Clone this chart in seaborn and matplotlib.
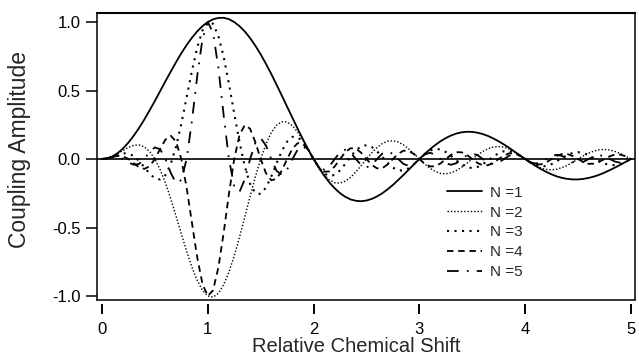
import numpy as np
import pandas as pd
import matplotlib
matplotlib.use("Agg")
import matplotlib.pyplot as plt
import seaborn as sns

# relative chemical shift, sampled every 0.05
shift = [0.00, 0.05, 0.10, 0.15, 0.20, 0.25, 0.30, 0.35, 0.40, 0.45,
         0.50, 0.55, 0.60, 0.65, 0.70, 0.75, 0.80, 0.85, 0.90, 0.95,
         1.00, 1.05, 1.10, 1.15, 1.20, 1.25, 1.30, 1.35, 1.40, 1.45,
         1.50, 1.55, 1.60, 1.65, 1.70, 1.75, 1.80, 1.85, 1.90, 1.95,
         2.00, 2.05, 2.10, 2.15, 2.20, 2.25, 2.30, 2.35, 2.40, 2.45,
         2.50, 2.55, 2.60, 2.65, 2.70, 2.75, 2.80, 2.85, 2.90, 2.95,
         3.00, 3.05, 3.10, 3.15, 3.20, 3.25, 3.30, 3.35, 3.40, 3.45,
         3.50, 3.55, 3.60, 3.65, 3.70, 3.75, 3.80, 3.85, 3.90, 3.95,
         4.00, 4.05, 4.10, 4.15, 4.20, 4.25, 4.30, 4.35, 4.40, 4.45,
         4.50, 4.55, 4.60, 4.65, 4.70, 4.75, 4.80, 4.85, 4.90, 4.95,
         5.00]

# coupling amplitude, N = 1..5
amp_n1 = [0, 0.005, 0.020, 0.044, 0.078, 0.120, 0.170, 0.226, 0.288, 0.355,
          0.424, 0.496, 0.568, 0.638, 0.707, 0.772, 0.832, 0.885, 0.932, 0.970,
          1.000, 1.020, 1.030, 1.031, 1.021, 1.000, 0.970, 0.931, 0.883, 0.827,
          0.764, 0.695, 0.621, 0.543, 0.463, 0.382, 0.301, 0.221, 0.143, 0.069,
          0, -0.064, -0.121, -0.172, -0.214, -0.249, -0.276, -0.295, -0.305, -0.308,
          -0.303, -0.291, -0.273, -0.250, -0.221, -0.189, -0.153, -0.116, -0.077, -0.038,
          0, 0.037, 0.071, 0.102, 0.130, 0.153, 0.172, 0.186, 0.195, 0.199,
          0.198, 0.192, 0.182, 0.168, 0.150, 0.129, 0.106, 0.081, 0.054, 0.027,
          0, -0.026, -0.051, -0.074, -0.094, -0.112, -0.127, -0.138, -0.145, -0.149,
          -0.149, -0.145, -0.138, -0.128, -0.115, -0.099, -0.081, -0.062, -0.042, -0.021,
          0]
amp_n2 = [0, 0.005, 0.019, 0.040, 0.063, 0.085, 0.100, 0.103, 0.089, 0.055,
          0, -0.078, -0.175, -0.290, -0.416, -0.546, -0.673, -0.789, -0.886, -0.958,
          -1.000, -1.008, -0.980, -0.918, -0.826, -0.707, -0.570, -0.423, -0.273, -0.129,
          0, 0.109, 0.192, 0.247, 0.272, 0.270, 0.243, 0.197, 0.136, 0.068,
          0, -0.063, -0.115, -0.153, -0.173, -0.176, -0.162, -0.134, -0.094, -0.048,
          0, 0.046, 0.084, 0.113, 0.130, 0.133, 0.124, 0.103, 0.073, 0.038,
          0, -0.036, -0.067, -0.091, -0.105, -0.108, -0.101, -0.084, -0.060, -0.031,
          0, 0.030, 0.056, 0.076, 0.088, 0.091, 0.086, 0.072, 0.051, 0.027,
          0, -0.026, -0.049, -0.066, -0.076, -0.079, -0.074, -0.062, -0.045, -0.023,
          0, 0.023, 0.043, 0.058, 0.068, 0.070, 0.066, 0.055, 0.040, 0.021,
          0]
amp_n3 = [0, 0.005, 0.017, 0.032, 0.042, 0.040, 0.022, -0.013, -0.059, -0.107,
          -0.141, -0.149, -0.117, -0.037, 0.090, 0.257, 0.449, 0.642, 0.813, 0.939,
          1.000, 0.987, 0.899, 0.747, 0.550, 0.333, 0.124, -0.054, -0.182, -0.249,
          -0.255, -0.209, -0.128, -0.032, 0.059, 0.127, 0.162, 0.160, 0.125, 0.067,
          0, -0.062, -0.106, -0.124, -0.116, -0.083, -0.035, 0.017, 0.063, 0.093,
          0.101, 0.088, 0.056, 0.015, -0.028, -0.063, -0.083, -0.084, -0.067, -0.037,
          0, 0.035, 0.062, 0.074, 0.070, 0.051, 0.022, -0.011, -0.040, -0.060,
          -0.066, -0.058, -0.038, -0.010, 0.019, 0.043, 0.057, 0.058, 0.047, 0.026,
          0, -0.025, -0.045, -0.054, -0.051, -0.037, -0.016, 0.008, 0.030, 0.045,
          0.050, 0.044, 0.028, 0.007, -0.015, -0.033, -0.044, -0.045, -0.037, -0.020,
          0]
amp_n4 = [0, 0.005, 0.015, 0.023, 0.019, 0, -0.031, -0.060, -0.072, -0.053,
          0, 0.074, 0.142, 0.170, 0.128, 0, -0.208, -0.464, -0.717, -0.912,
          -1.000, -0.958, -0.793, -0.540, -0.255, 0, 0.176, 0.248, 0.221, 0.123,
          0, -0.103, -0.155, -0.145, -0.084, 0, 0.075, 0.116, 0.110, 0.065,
          0, -0.060, -0.093, -0.090, -0.054, 0, 0.050, 0.079, 0.076, 0.046,
          0, -0.043, -0.068, -0.067, -0.040, 0, 0.038, 0.061, 0.059, 0.036,
          0, -0.034, -0.054, -0.053, -0.032, 0, 0.031, 0.050, 0.049, 0.030,
          0, -0.029, -0.046, -0.045, -0.027, 0, 0.026, 0.042, 0.042, 0.025,
          0, -0.025, -0.039, -0.039, -0.024, 0, 0.023, 0.037, 0.036, 0.022,
          0, -0.022, -0.035, -0.034, -0.021, 0, 0.020, 0.033, 0.032, 0.020,
          0]
amp_n5 = [0, 0.005, 0.013, 0.014, 0, -0.024, -0.042, -0.036, 0, 0.051,
          0.085, 0.071, 0, -0.101, -0.175, -0.154, 0, 0.276, 0.603, 0.877,
          1.000, 0.922, 0.667, 0.321, 0, -0.200, -0.240, -0.148, 0, 0.118,
          0.153, 0.099, 0, -0.086, -0.115, -0.076, 0, 0.069, 0.093, 0.063,
          0, -0.058, -0.078, -0.053, 0, 0.050, 0.068, 0.047, 0, -0.044,
          -0.061, -0.042, 0, 0.040, 0.055, 0.038, 0, -0.036, -0.050, -0.034,
          0, 0.033, 0.046, 0.032, 0, -0.031, -0.042, -0.030, 0, 0.028,
          0.040, 0.028, 0, -0.027, -0.037, -0.026, 0, 0.025, 0.035, 0.024,
          0, -0.024, -0.033, -0.023, 0, 0.022, 0.031, 0.022, 0, -0.021,
          -0.030, -0.021, 0, 0.020, 0.028, 0.020, 0, -0.019, -0.027, -0.019,
          0]

labels = ["N =1", "N =2", "N =3", "N =4", "N =5"]
series = [amp_n1, amp_n2, amp_n3, amp_n4, amp_n5]

# line looks: (linewidth, dash pattern or None for solid)
looks = [(1.3, None), (1.0, (1, 1.4)), (1.5, (1, 2.6)), (1.3, (3.6, 2.6)), (1.3, (6.5, 4.5, 1, 4.5))]

sns.set_style("ticks")
plt.rcParams["font.family"] = ["Liberation Sans", "DejaVu Sans"]

df = pd.DataFrame({"shift": shift * 5,
                   "amp": sum(series, []),
                   "N": np.repeat(labels, len(shift))})

fig = plt.figure(figsize=(6.39, 3.6), dpi=100)
ax = fig.add_axes([0.1518, 0.1667, 0.8419, 0.7972])

for lab, (lw, dash) in zip(labels, looks):
    sub = df[df["N"] == lab]
    sns.lineplot(data=sub, x="shift", y="amp", ax=ax, color="black",
                 linewidth=lw, label=lab, estimator=None, sort=False)
    line = ax.lines[-1]
    if dash is not None:
        line.set_dashes(dash)
        line.set_dash_capstyle("butt")

ax.axhline(0, color="black", lw=1.2, zorder=1)

ax.set_xlim(-0.047, 5.038)
ax.set_ylim(-1.029, 1.066)
ax.set_xticks([0, 1, 2, 3, 4, 5])
ax.set_yticks([-1.0, -0.5, 0.0, 0.5, 1.0])
ax.set_yticklabels(["-1.0", "-0.5", "0.0", "0.5", "1.0"])

for side in ["left", "right", "top"]:
    ax.spines[side].set_visible(True)
    ax.spines[side].set_color("black")
    ax.spines[side].set_linewidth(1.1)
ax.spines["top"].set_linewidth(1.5)
# x ticks hang a little below the frame
ax.spines["bottom"].set_position(("outward", 3))
ax.spines["bottom"].set_color("none")
ax.axhline(-1.029, color="black", lw=1.1, clip_on=False)

ax.tick_params(axis="y", direction="out", length=8, width=1.1, pad=4, labelsize=12, colors="black")
ax.tick_params(axis="x", direction="out", length=7, width=1.4, pad=5.5, labelsize=12, colors="black")

ax.set_xlabel("Relative Chemical Shift", fontsize=14.5)
ax.set_ylabel("Coupling Amplitude", fontsize=16.5)
ax.xaxis.set_label_coords(0.481, -0.13)
ax.yaxis.set_label_coords(-0.122, 0.524)

leg = ax.legend(loc="upper left", bbox_to_anchor=(0.651, 0.398), frameon=False,
                fontsize=11, handlelength=2.3, handletextpad=0.5,
                labelspacing=0.38, borderpad=0, borderaxespad=0)

fig.savefig("out.png", dpi=100)
